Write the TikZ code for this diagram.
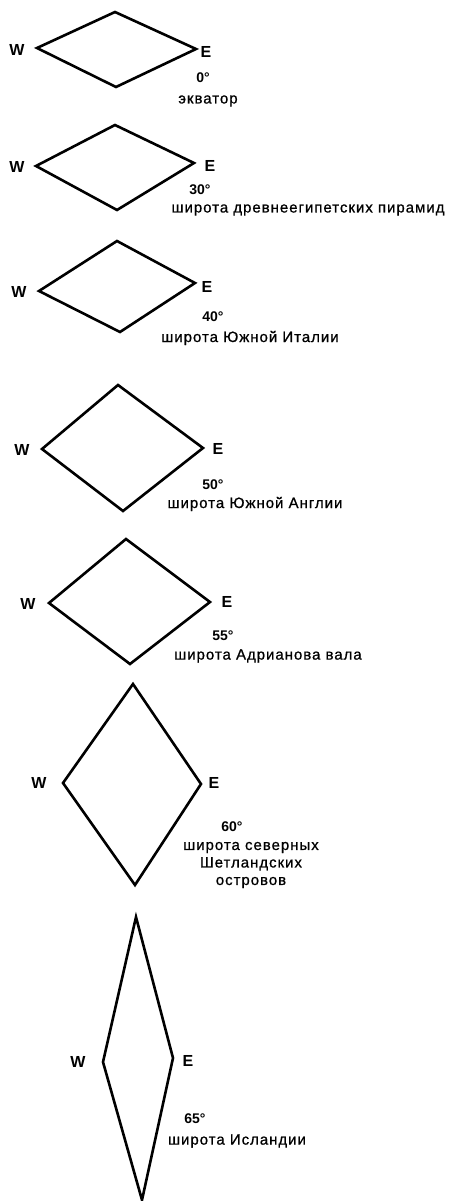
\documentclass[tikz,border=0pt]{standalone}
\usepackage{fontspec}
\setmainfont{Liberation Sans}

\tikzset{
	rhomb/.style={line width=2.6pt, line join=miter},
	compass/.style={font=\bfseries\fontsize{16}{18}\selectfont, inner sep=0pt},
	deg/.style={font=\bfseries\fontsize{14}{16}\selectfont, inner sep=0pt},
	lat/.style={font=\fontsize{15}{17.5}\selectfont\addfontfeature{LetterSpace=6.5,FakeBold=0.8}, inner sep=0pt, align=center}
}

\begin{document}
\begin{tikzpicture}[x=1pt,y=-1pt]

\useasboundingbox (0,0) rectangle (455,1201);

%0 degrees
\coordinate (t0) at (115,12);		%top
\coordinate (l0) at (37,48);		%left
\coordinate (r0) at (196,49);		%right
\coordinate (b0) at (116,87);		%bottom
\draw [rhomb] (t0)--(r0)--(b0)--(l0)--cycle;
\node[compass] (W0) at (17,50) {W};
\node[compass] (E0) at (206,52) {E};
\node[deg] (d0) at (203,78) {0°};
\node[lat] (n0) at (208,101) {экватор};

%30 degrees
\coordinate (t30) at (115,125);
\coordinate (l30) at (36,166);
\coordinate (r30) at (194,163);
\coordinate (b30) at (117,210);
\draw [rhomb] (t30)--(r30)--(b30)--(l30)--cycle;
\node[compass] (W30) at (17,167) {W};
\node[compass] (E30) at (210,166) {E};
\node[deg] (d30) at (200,190) {30°};
\node[lat] (n30) at (308,210) {широта древнеегипетских пирамид};

%40 degrees
\coordinate (t40) at (117,241);
\coordinate (l40) at (39,291);
\coordinate (r40) at (195,283);
\coordinate (b40) at (120,332);
\draw [rhomb] (t40)--(r40)--(b40)--(l40)--cycle;
\node[compass] (W40) at (19,292) {W};
\node[compass] (E40) at (207,287) {E};
\node[deg] (d40) at (213,317) {40°};
\node[lat] (n40) at (250,338) {широта Южной Италии};

%50 degrees
\coordinate (t50) at (118,385);
\coordinate (l50) at (42,449);
\coordinate (r50) at (203,448);
\coordinate (b50) at (123,511);
\draw [rhomb] (t50)--(r50)--(b50)--(l50)--cycle;
\node[compass] (W50) at (22,450) {W};
\node[compass] (E50) at (218,449) {E};
\node[deg] (d50) at (213,485) {50°};
\node[lat] (n50) at (255,504) {широта Южной Англии};

%55 degrees
\coordinate (t55) at (126,539);
\coordinate (l55) at (49,603);
\coordinate (r55) at (210,602);
\coordinate (b55) at (130,664);
\draw [rhomb] (t55)--(r55)--(b55)--(l55)--cycle;
\node[compass] (W55) at (28,604) {W};
\node[compass] (E55) at (227,602) {E};
\node[deg] (d55) at (223,636) {55°};
\node[lat] (n55) at (268,656) {широта Адрианова вала};

%60 degrees
\coordinate (t60) at (133,684);
\coordinate (l60) at (63,783);
\coordinate (r60) at (201,784);
\coordinate (b60) at (135,885);
\draw [rhomb] (t60)--(r60)--(b60)--(l60)--cycle;
\node[compass] (W60) at (39,783) {W};
\node[compass] (E60) at (214,783) {E};
\node[deg] (d60) at (232,827) {60°};
\node[lat] (n60) at (251,865) {широта северных\\Шетландских\\островов};

%65 degrees
\coordinate (t65) at (136,917);
\coordinate (l65) at (103,1062);
\coordinate (r65) at (173,1058);
\coordinate (b65) at (142,1200);
\draw [rhomb] (t65)--(r65)--(b65)--(l65)--cycle;
\node[compass] (W65) at (78,1062) {W};
\node[compass] (E65) at (188,1061) {E};
\node[deg] (d65) at (195,1119) {65°};
\node[lat] (n65) at (237,1141) {широта Исландии};

\end{tikzpicture}
\end{document}
